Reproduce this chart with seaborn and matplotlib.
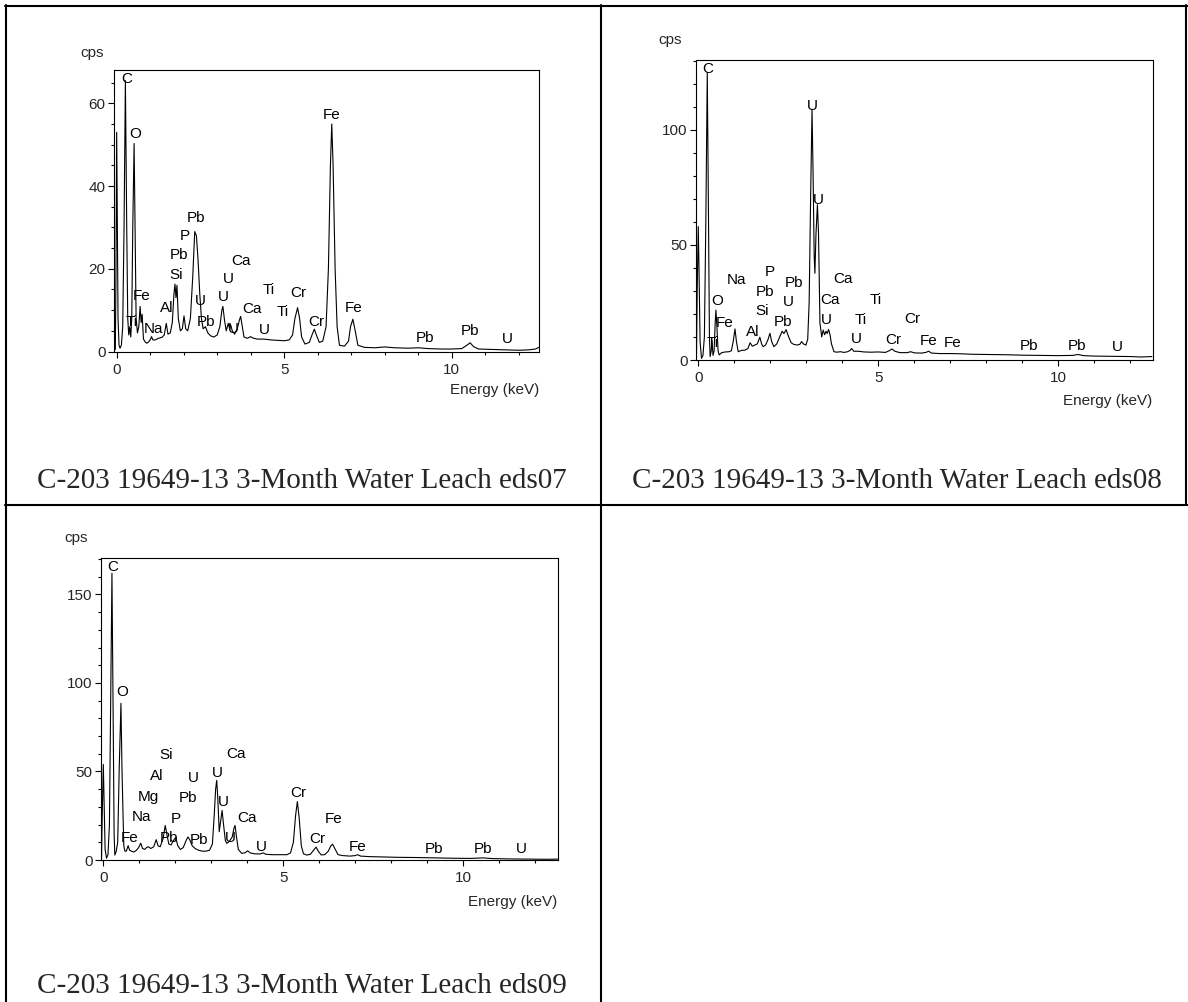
import numpy as np
import pandas as pd
import matplotlib
matplotlib.use("Agg")
import matplotlib.pyplot as plt
import seaborn as sns
from matplotlib.lines import Line2D
from matplotlib.ticker import MultipleLocator

# ---------------- data ----------------
energy_07 = [-0.04, -0.02, 0.0, 0.02, 0.04, 0.07, 0.10, 0.14, 0.18, 0.22, 0.26, 0.30, 0.33, 0.36, 0.39, 0.42,
             0.45, 0.48, 0.52, 0.55, 0.58, 0.62, 0.66, 0.70, 0.73, 0.76, 0.80, 0.85, 0.90, 0.95, 1.00, 1.04,
             1.08, 1.15, 1.25, 1.35, 1.42, 1.48, 1.53, 1.60, 1.66, 1.71, 1.74, 1.77, 1.80, 1.84, 1.90, 1.96,
             2.01, 2.06, 2.12, 2.20, 2.27, 2.33, 2.38, 2.43, 2.48, 2.53, 2.58, 2.65, 2.72, 2.80, 2.90, 3.00,
             3.08, 3.14, 3.17, 3.22, 3.27, 3.33, 3.37, 3.40, 3.45, 3.52, 3.60, 3.66, 3.70, 3.75, 3.80, 3.90,
             4.00, 4.05, 4.20, 4.40, 4.60, 4.80, 5.00, 5.15, 5.25, 5.32, 5.40, 5.46, 5.52, 5.62, 5.75, 5.83,
             5.90, 5.96, 6.05, 6.15, 6.25, 6.32, 6.38, 6.42, 6.46, 6.52, 6.58, 6.65, 6.80, 6.92, 6.98, 7.05,
             7.12, 7.20, 7.40, 7.70, 8.00, 8.30, 8.70, 9.00, 9.30, 9.70, 10.00, 10.30, 10.45, 10.55, 10.65,
             10.80, 11.20, 11.60, 12.00, 12.30, 12.50, 12.60]
cps_07 = [0.5, 20, 53, 30, 8, 1.5, 0.8, 1.5, 6, 30, 65.5, 30, 8, 4, 6, 3.5,
          8, 30, 50.3, 30, 8, 4.5, 6, 10.9, 7, 9, 3, 2.3, 2.0, 2.3, 2.8, 3.6,
          2.8, 2.8, 3.2, 3.4, 4.0, 6.8, 4.2, 4.5, 7, 14, 16.3, 13, 16, 8, 5, 5.5,
          8.6, 5.5, 5, 8, 18, 29, 28, 22, 14, 8, 5.5, 6, 4.5, 3.8, 3.5, 4,
          6, 10, 10.9, 7.5, 5, 6.8, 5.5, 6.5, 5, 4.2, 5.5, 7.5, 8.5, 6, 3.5, 3.2,
          3.6, 3.3, 3.0, 3.0, 2.8, 2.7, 2.6, 2.8, 4, 8, 10.6, 8, 3.5, 1.8, 2.2, 4,
          5.4, 4, 2.2, 2.5, 6, 20, 45, 55, 45, 20, 6, 1.5, 1.3, 2.5, 6, 7.8,
          5, 1.5, 1.0, 0.9, 1.1, 0.9, 0.8, 0.9, 0.7, 0.6, 0.6, 0.7, 1.5, 2.1, 1.2,
          0.6, 0.5, 0.4, 0.3, 0.4, 0.6, 1.0]

energy_08 = [-0.05, -0.03, 0.0, 0.02, 0.05, 0.09, 0.13, 0.17, 0.21, 0.25, 0.28, 0.31, 0.33, 0.36, 0.38, 0.41,
             0.44, 0.47, 0.49, 0.52, 0.55, 0.58, 0.65, 0.75, 0.85, 0.92, 0.97, 1.02, 1.06, 1.11, 1.20, 1.30,
             1.38, 1.44, 1.50, 1.57, 1.64, 1.71, 1.76, 1.80, 1.87, 1.94, 1.99, 2.04, 2.10, 2.18, 2.26, 2.33,
             2.38, 2.44, 2.50, 2.58, 2.65, 2.75, 2.82, 2.87, 2.92, 2.99, 3.04, 3.08, 3.12, 3.16, 3.19, 3.22,
             3.24, 3.27, 3.31, 3.34, 3.38, 3.43, 3.47, 3.51, 3.55, 3.58, 3.62, 3.66, 3.70, 3.77, 3.85, 3.95,
             4.05, 4.15, 4.22, 4.26, 4.32, 4.45, 4.60, 4.80, 5.00, 5.20, 5.30, 5.38, 5.46, 5.60, 5.80, 5.90,
             6.00, 6.20, 6.32, 6.40, 6.48, 6.70, 7.00, 7.30, 7.60, 8.00, 8.50, 9.00, 9.50, 10.00, 10.40,
             10.55, 10.70, 11.00, 11.50, 12.00, 12.30, 12.60]
cps_08 = [0.5, 30, 58, 40, 8, 0.7, 2, 10, 60, 125, 70, 10, 1.5, 4, 8.5, 2,
          4, 16, 21.7, 14, 4, 2.2, 3.2, 3.5, 3.6, 4, 8, 13.5, 8, 3.6, 4.2, 4.3,
          5, 7.5, 6, 6.5, 7, 9.9, 7, 5.8, 6.5, 9, 11.6, 8, 5.8, 7, 10, 12.5,
          11.5, 13.2, 10.5, 7.5, 6.8, 6.5, 6.8, 8, 7, 6.5, 9, 25, 70, 109, 80, 45,
          37.7, 55, 67.5, 55, 16, 10, 13, 11, 12.5, 11.5, 13.3, 11, 7, 3.6, 3.4, 3.6,
          3.3, 3.6, 4.2, 5, 3.8, 3.8, 3.5, 3.4, 3.5, 3.3, 4, 4.8, 3.8, 3.2, 3.2, 3.6,
          3.1, 3.0, 3.3, 3.8, 3.0, 2.8, 2.8, 2.7, 2.5, 2.4, 2.3, 2.1, 2.0, 1.9, 2.0,
          2.4, 1.9, 1.7, 1.6, 1.5, 1.3, 1.5]

energy_09 = [-0.05, -0.03, 0.0, 0.02, 0.05, 0.09, 0.13, 0.17, 0.21, 0.24, 0.27, 0.30, 0.32, 0.36, 0.40, 0.44,
             0.49, 0.52, 0.55, 0.57, 0.60, 0.64, 0.69, 0.73, 0.78, 0.85, 0.92, 0.98, 1.04, 1.09, 1.15, 1.20,
             1.25, 1.32, 1.40, 1.47, 1.52, 1.58, 1.66, 1.72, 1.77, 1.82, 1.88, 1.95, 2.01, 2.07, 2.14, 2.22,
             2.30, 2.35, 2.40, 2.47, 2.55, 2.65, 2.75, 2.85, 2.95, 3.03, 3.08, 3.12, 3.15, 3.18, 3.22, 3.26,
             3.30, 3.34, 3.39, 3.43, 3.50, 3.58, 3.63, 3.66, 3.70, 3.75, 3.84, 3.93, 4.01, 4.08, 4.20, 4.35,
             4.44, 4.52, 4.70, 4.90, 5.10, 5.20, 5.28, 5.34, 5.39, 5.44, 5.50, 5.56, 5.65, 5.75, 5.84, 5.91,
             5.97, 6.05, 6.15, 6.25, 6.32, 6.37, 6.43, 6.52, 6.65, 6.85, 7.00, 7.06, 7.15, 7.40, 7.80, 8.20,
             8.70, 9.20, 9.70, 10.20, 10.55, 10.80, 11.30, 11.80, 12.30, 12.62]
cps_09 = [0.5, 25, 54, 35, 6, 1, 3, 20, 100, 162, 90, 15, 2.8, 5, 10, 50,
          88.5, 50, 24, 8, 5, 5, 8.1, 5.5, 5, 4.5, 5.5, 7, 9.5, 6.5, 6, 7,
          7.5, 6.5, 7.5, 11.5, 8, 7.5, 12, 19.5, 14, 9, 8.5, 11, 12.7, 8, 6, 7,
          11, 13, 11.5, 8, 6.5, 5.5, 5, 5, 5.5, 9, 25, 40, 45, 35, 16, 22,
          28, 20, 11, 9.4, 10.5, 13, 18, 19.5, 13, 6, 3.8, 4, 5.2, 4, 3.5, 3.4,
          4, 3.2, 3.0, 3.0, 3.0, 4, 10, 25, 33, 24, 8, 3.5, 2.8, 3.2, 5.5, 7.3,
          5, 2.9, 3, 5, 8, 8.9, 6.5, 3, 2.5, 2.2, 2.5, 3, 2.2, 1.9, 1.7, 1.5,
          1.4, 1.2, 1.0, 0.9, 1.2, 0.8, 0.6, 0.5, 0.4, 0.5]

# peak labels: element, energy (keV), cps
labels_07 = [("C", 0.29, 65.8), ("O", 0.54, 52.5), ("Fe", 0.73, 13.4), ("Ti", 0.46, 7.1), ("Na", 1.11, 5.5),
             ("Al", 1.49, 10.4), ("Si", 1.77, 18.6), ("Pb", 1.86, 23.3), ("P", 2.03, 27.9), ("Pb", 2.37, 32.3),
             ("U", 2.51, 12.2), ("Pb", 2.68, 7.2), ("U", 3.17, 13.2), ("U", 3.34, 17.6), ("Ca", 3.71, 21.8),
             ("U", 3.48, 5.4), ("Ca", 4.03, 10.2), ("U", 4.40, 5.1), ("Ti", 4.54, 14.8), ("Ti", 4.97, 9.6),
             ("Cr", 5.42, 14.2), ("Cr", 5.97, 7.1), ("Fe", 6.42, 57.2), ("Fe", 7.07, 10.4), ("Pb", 9.21, 3.2),
             ("Pb", 10.56, 5.0), ("U", 11.66, 3.0)]
labels_08 = [("C", 0.27, 126.3), ("U", 3.17, 110.4), ("U", 3.33, 69.7), ("Na", 1.05, 34.6), ("P", 2.00, 38.2),
             ("Pb", 1.85, 29.6), ("Pb", 2.65, 33.6), ("O", 0.53, 25.7), ("U", 2.49, 25.3), ("Si", 1.76, 21.1),
             ("Fe", 0.72, 16.0), ("Pb", 2.36, 16.7), ("Ti", 0.41, 7.6), ("Al", 1.50, 12.3), ("Ca", 4.01, 35.1),
             ("Ca", 3.67, 26.1), ("U", 3.57, 17.5), ("Ti", 4.93, 26.1), ("Ti", 4.51, 17.5), ("U", 4.40, 9.1),
             ("Cr", 5.94, 17.7), ("Cr", 5.42, 8.8), ("Fe", 6.41, 8.4), ("Fe", 7.07, 7.2), ("Pb", 9.20, 6.2),
             ("Pb", 10.53, 6.2), ("U", 11.63, 5.5)]
labels_09 = [("C", 0.26, 165.7), ("O", 0.53, 94.9), ("Si", 1.75, 59.1), ("Al", 1.49, 47.7), ("Mg", 1.25, 35.8),
             ("Na", 1.06, 24.5), ("Fe", 0.74, 12.6), ("U", 2.51, 46.2), ("Pb", 2.35, 34.9), ("P", 2.01, 23.2),
             ("Pb", 1.83, 12.3), ("Pb", 2.67, 11.3), ("U", 3.17, 49.1), ("Ca", 3.68, 59.8), ("U", 3.33, 32.5),
             ("Ca", 4.00, 24.0), ("U", 3.54, 12.3), ("U", 4.39, 7.5), ("Cr", 5.43, 37.7), ("Cr", 5.94, 11.9),
             ("Fe", 6.40, 23.0), ("Fe", 7.06, 7.2), ("Pb", 9.19, 6.2), ("Pb", 10.54, 6.2), ("U", 11.62, 6.2)]

captions = ["C-203 19649-13 3-Month Water Leach eds07",
            "C-203 19649-13 3-Month Water Leach eds08",
            "C-203 19649-13 3-Month Water Leach eds09"]
y_major = [20, 50, 50]
y_minor = [5, 10, 10]
y_top = [68, 130.6, 170.5]
x_limits = [(-0.08, 12.6), (-0.063, 12.62), (-0.064, 12.63)]

# ---------------- figure ----------------
W, H, DPI = 1188, 1002, 100
sns.set_style("white")
plt.rcParams['font.family'] = ['Liberation Sans', 'DejaVu Sans']
fig = plt.figure(figsize=(W / DPI, H / DPI), dpi=DPI)
fig.patch.set_facecolor('white')


def fx(x):
    return x / W


def fy(y):
    return 1 - y / H


def px_axes(left, top, right, bottom):
    return fig.add_axes([fx(left), fy(bottom), (right - left) / W, (bottom - top) / H])


# table lines
lw_tab = 1.5
for (x0, y0, x1, y1) in [(5, 6, 1188, 6), (6, 5, 6, 1002), (601, 5, 601, 1002),
                         (5, 505, 1188, 505), (1186, 5, 1186, 505)]:
    fig.add_artist(Line2D([fx(x0), fx(x1)], [fy(y0), fy(y1)], color='black', lw=lw_tab,
                          transform=fig.transFigure))

axes_px = [(114.0, 70.3, 538.8, 351.5), (696.0, 59.6, 1152.6, 360.0), (101.0, 558.2, 558.0, 860.0)]
cps_pos = [(92.6, 52.5), (669.7, 40.3), (76.4, 537.8)]
energy_pos = [(539, 389.7), (1152, 401.4), (557, 901.8)]
caption_pos = [(37, 488), (632, 488), (37, 993)]

spectra = [(energy_07, cps_07, labels_07), (energy_08, cps_08, labels_08), (energy_09, cps_09, labels_09)]

FS = 11
for i, (en, cp, labs) in enumerate(spectra):
    ax = px_axes(*axes_px[i])
    df = pd.DataFrame({"energy": en, "cps": cp})
    sns.lineplot(data=df, x="energy", y="cps", ax=ax, color="black", linewidth=0.8,
                 estimator=None, sort=False, legend=False)
    ax.set_xlim(*x_limits[i])
    ax.set_ylim(0, y_top[i])
    ax.set_xlabel("")
    ax.set_ylabel("")
    ax.xaxis.set_major_locator(MultipleLocator(5))
    ax.xaxis.set_minor_locator(MultipleLocator(1))
    ax.yaxis.set_major_locator(MultipleLocator(y_major[i]))
    ax.yaxis.set_minor_locator(MultipleLocator(y_minor[i]))
    ax.tick_params(which='both', direction='out', bottom=True, left=True, top=False, right=False,
                   width=0.8, color='black')
    ax.tick_params(which='major', length=4, labelsize=FS, pad=2)
    ax.tick_params(axis='x', which='major', pad=4)
    ax.tick_params(which='minor', length=2)
    for s in ax.spines.values():
        s.set_color('black')
        s.set_linewidth(0.8)
        s.set_visible(True)
    for name, e, c in labs:
        ax.text(e, c, name, ha='center', va='center', fontsize=FS, color='black')
    fig.text(fx(cps_pos[i][0]), fy(cps_pos[i][1]), "cps", ha='center', va='center', fontsize=FS)
    fig.text(fx(energy_pos[i][0]), fy(energy_pos[i][1]), "Energy (keV)", ha='right', va='center',
             fontsize=FS)
    fig.text(fx(caption_pos[i][0]), fy(caption_pos[i][1]), captions[i], ha='left', va='baseline',
             fontsize=21, family=['Liberation Serif', 'DejaVu Serif'])

fig.savefig("out.png", dpi=DPI, facecolor='white')
